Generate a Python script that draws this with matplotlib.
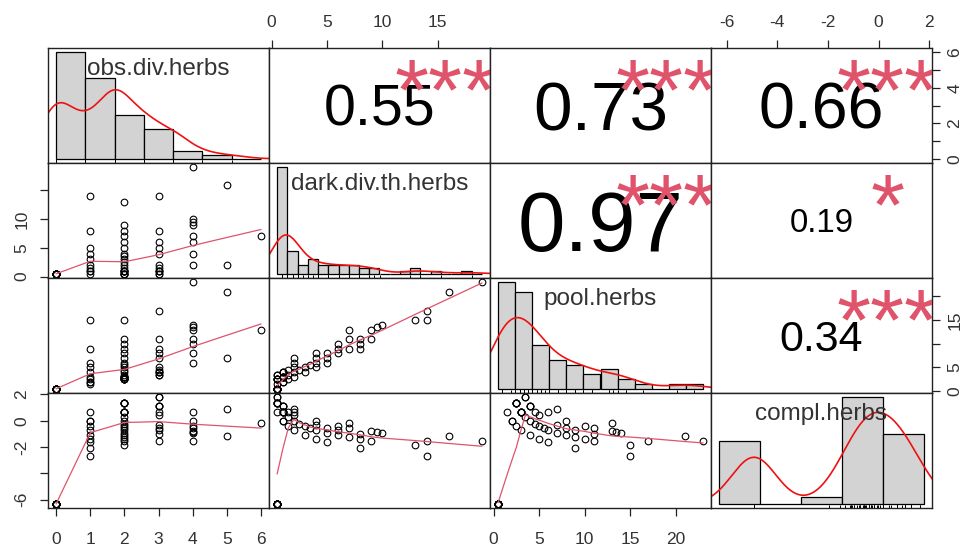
import numpy as np
import matplotlib
matplotlib.use("Agg")
import matplotlib.pyplot as plt

plt.rcParams['font.family'] = ['Liberation Sans', 'DejaVu Sans']

var_names = ["obs.div.herbs", "dark.div.th.herbs", "pool.herbs", "compl.herbs"]

obs_div_herbs = [
    0, 0, 0, 0, 0, 0, 0, 0, 0, 0, 0, 0, 0, 0, 0, 0, 0, 0, 0,
    1, 1, 1, 1, 1, 1, 1, 1, 1, 1,
    2, 2, 2, 2, 2, 2, 2, 2, 2, 2, 2, 2, 2, 2, 2, 2, 2, 2, 2, 2, 2, 2,
    3, 3, 3, 3, 3, 3, 3, 3, 3, 3, 3, 3,
    4, 4, 4, 4, 4, 4, 4, 4,
    5, 5,
    6]
dark_div_th_herbs = [
    0.5, 0.5, 0.5, 0.5, 0.5, 0.5, 0.5, 0.5, 0.5, 0.5,
    0.5, 0.5, 0.5, 0.5, 0.5, 0.5, 0.5, 0.5, 0.5,
    14, 8, 5, 4, 3, 2, 1.5, 1, 1, 0.5,
    13, 9, 8, 7, 6, 5, 4, 3.5, 3, 2.5, 2, 1.5, 1, 1, 1, 1, 1, 0.5, 0.5, 0.5, 0.5, 0.5,
    14, 8, 6, 5, 4, 2, 1.5, 1, 1, 1, 0.5, 0.5,
    19, 10, 9.5, 9, 7, 6, 4, 2,
    16, 2,
    7]
pool_herbs = [
    0.5, 0.5, 0.5, 0.5, 0.5, 0.5, 0.5, 0.5, 0.5, 0.5,
    0.5, 0.5, 0.5, 0.5, 0.5, 0.5, 0.5, 0.5, 0.5,
    15, 9, 6, 5, 4, 3, 2.5, 2, 2, 1.5,
    15, 11, 10, 9, 8, 7, 6, 5.5, 5, 4.5, 4, 3.5, 3, 3, 3, 3, 3, 2.5, 2.5, 2.5, 2.5, 2.5,
    17, 11, 9, 8, 7, 5, 4.5, 4, 4, 4, 3.5, 3.5,
    23, 14, 13.5, 13, 11, 10, 8, 6,
    21, 7,
    13]
compl_herbs = [
    -6.3, -6.3, -6.3, -6.3, -6.3, -6.3, -6.3, -6.3, -6.3, -6.3,
    -6.3, -6.3, -6.3, -6.3, -6.3, -6.3, -6.3, -6.3, -6.3,
    -2.64, -2.08, -1.61, -1.39, -1.10, -0.69, -0.41, 0.00, 0.00, 0.69,
    -1.87, -1.50, -1.39, -1.25, -1.10, -0.92, -0.69, -0.56, -0.41, -0.22, 0.00,
    0.29, 0.69, 0.69, 0.69, 0.69, 0.69, 1.39, 1.39, 1.39, 1.39, 1.39,
    -1.54, -0.98, -0.69, -0.51, -0.29, 0.41, 0.69, 1.10, 1.10, 1.10, 1.79, 1.79,
    -1.56, -0.92, -0.87, -0.81, -0.56, -0.41, 0.00, 0.69,
    -1.16, 0.92,
    -0.15]

# upper panels: (row, col) -> printed correlation and significance stars
cor_cells = [(0, 1), (0, 2), (0, 3), (1, 2), (1, 3), (2, 3)]
cor_values = [0.55, 0.73, 0.66, 0.97, 0.19, 0.34]
cor_stars = ["***", "***", "***", "***", "*", "***"]

# axis ticks and the labels that stay printed
obs_ticks = [0, 1, 2, 3, 4, 5, 6]
dark_ticks = [0, 5, 10, 15]
pool_ticks = [0, 5, 10, 15, 20]
compl_ticks = [-6, -4, -2, 0, 2]

data = [np.array(v, float) for v in
        (obs_div_herbs, dark_div_th_herbs, pool_herbs, compl_herbs)]
hist_breaks = [np.arange(0, 8, 1.0), np.arange(0, 21, 1.0),
               np.arange(0, 25, 2.0), np.arange(-8, 3, 2.0)]

SMOOTH = "#DF536B"
INK = "#222222"


def lowess(x, y, f=2 / 3, iters=3):
    order = np.argsort(x, kind="stable")
    x = np.asarray(x, float)[order]
    y = np.asarray(y, float)[order]
    n = len(x)
    ns = max(min(int(round(f * n)), n), 2)
    rw = np.ones(n)
    fit = np.zeros(n)
    span = x[-1] - x[0]
    for it in range(iters + 1):
        for i in range(n):
            d = np.abs(x - x[i])
            h = np.sort(d)[ns - 1]
            if h > 0:
                w = np.where(d <= 0.999 * h, (1 - (d / h) ** 3) ** 3, 0.0)
                w[d <= 0.001 * h] = 1.0
            else:
                w = (d == 0).astype(float)
            w = w * rw
            s = w.sum()
            if s <= 0:
                fit[i] = y[i]
                continue
            w = w / s
            if h > 0:
                a = (w * x).sum()
                c = (w * (x - a) ** 2).sum()
                if np.sqrt(c) > 0.001 * span:
                    b = (x[i] - a) / c
                    w = w * (b * (x - a) + 1)
            fit[i] = (w * y).sum()
        if it == iters:
            break
        res = y - fit
        cmad = 6 * np.median(np.abs(res))
        if cmad < 1e-7 * np.mean(np.abs(y)):
            break
        u = np.abs(res) / cmad
        rw = np.where(u <= 0.999, (1 - u ** 2) ** 2, 0.0)
        rw[u <= 0.001] = 1.0
    return x, fit


def density(v):
    n = len(v)
    sd = v.std(ddof=1)
    q1, q3 = np.percentile(v, [25, 75])
    lo = min(sd, (q3 - q1) / 1.34) or sd
    bw = 0.9 * lo * n ** -0.2
    grid = np.linspace(v.min() - 3 * bw, v.max() + 3 * bw, 512)
    k = np.exp(-0.5 * ((grid[:, None] - v[None, :]) / bw) ** 2)
    return grid, k.sum(1) / (n * bw * np.sqrt(2 * np.pi))


def padded(v):
    lo, hi = v.min(), v.max()
    r = hi - lo
    return lo - 0.04 * r, hi + 0.04 * r


fig = plt.figure(figsize=(9.65, 5.49), dpi=100)
W, H = 965.0, 549.0
left, top, pw, ph = 48, 48, 221, 115

axes = {}
for i in range(4):
    for j in range(4):
        x0 = left + pw * j
        y0 = top + ph * i
        ax = fig.add_axes([x0 / W, 1 - (y0 + ph) / H, pw / W, ph / H])
        ax.set_xticks([])
        ax.set_yticks([])
        for s in ax.spines.values():
            s.set_color(INK)
            s.set_linewidth(1.0)
        axes[i, j] = ax

n_obs = len(data[0])
for k in range(4):
    ax = axes[k, k]
    v = data[k]
    br = hist_breaks[k]
    # right-closed bins, lowest edge included
    idx = np.clip(np.searchsorted(br, v, side="left") - 1, 0, len(br) - 2)
    counts = np.bincount(idx, minlength=len(br) - 1)
    widths = np.diff(br)
    dens = counts / (n_obs * widths)
    ax.bar(br[:-1], dens, widths, align="edge", color="#D3D3D3",
           edgecolor="black", linewidth=0.9)
    gx, gy = density(v)
    ax.plot(gx, gy, color="#EE1111", lw=1.2)
    ax.vlines(v, 0, 0.03, transform=ax.get_xaxis_transform(),
              color="black", lw=0.7)
    r = br[-1] - br[0]
    ax.set_xlim(br[0] - 0.04 * r, br[-1] + 0.04 * r)
    ax.set_ylim(-0.04 * dens.max(), 1.04 * dens.max())
    ax.text(0.5, 0.82, var_names[k], transform=ax.transAxes, ha="center",
            va="center", fontsize=17.5, color="#333333")

# lower panels: scatter with lowess smooth
for i in range(4):
    for j in range(i):
        ax = axes[i, j]
        x, y = data[j], data[i]
        ax.plot(x, y, "o", mfc="none", mec="black", mew=0.8, ms=4.8)
        sx, sy = lowess(x, y)
        ax.plot(sx, sy, color=SMOOTH, lw=0.9)

for i in range(4):
    for j in range(4):
        if i != j:
            axes[i, j].set_xlim(*padded(data[j]))
            axes[i, j].set_ylim(*padded(data[i]))

# upper panels: correlation text sized by |r|
base_px = 0.77 * pw / 1.946
for (i, j), r, st in zip(cor_cells, cor_values, cor_stars):
    ax = axes[i, j]
    em = base_px * (abs(r) + 0.3) / 1.3
    ax.text(0.5, 0.5 - 0.358 * em / ph, f"{r:.2f}", transform=ax.transAxes,
            ha="center", va="baseline", fontsize=em * 0.72, color="black",
            clip_on=True)
    ax.text(0.8, 0.38, st, transform=ax.transAxes, ha="center",
            va="baseline", fontsize=base_px * 0.72, color=SMOOTH,
            clip_on=True)

tick_kw = dict(length=6, width=0.9, color=INK, labelsize=12.5,
               labelcolor="#333333", direction="out")


def x_axis(ax, ticks, side, pad):
    ax.set_xticks(ticks)
    ax.set_xticklabels([str(t) for t in ticks])
    if side == "top":
        ax.xaxis.tick_top()
    ax.tick_params(axis="x", pad=pad, **tick_kw)


def y_axis(ax, ticks, labels, side, pad):
    ax.set_yticks(ticks)
    ax.set_yticklabels(labels, rotation=90, va="center")
    if side == "right":
        ax.yaxis.tick_right()
    ax.tick_params(axis="y", pad=pad, **tick_kw)


x_axis(axes[3, 0], obs_ticks, "bottom", 11)
x_axis(axes[3, 2], pool_ticks, "bottom", 11)
x_axis(axes[0, 1], dark_ticks, "top", 7)
x_axis(axes[0, 3], compl_ticks, "top", 7)
y_axis(axes[1, 0], dark_ticks, ["0", "5", "10", ""], "left", 7.5)
y_axis(axes[3, 0], compl_ticks, ["-6", "", "-2", "0", "2"], "left", 7.5)
y_axis(axes[0, 3], obs_ticks, ["0", "", "2", "", "4", "", "6"], "right", 5)
y_axis(axes[2, 3], pool_ticks, ["0", "5", "", "15", ""], "right", 5)

fig.savefig("out.png", dpi=100, facecolor="white")
